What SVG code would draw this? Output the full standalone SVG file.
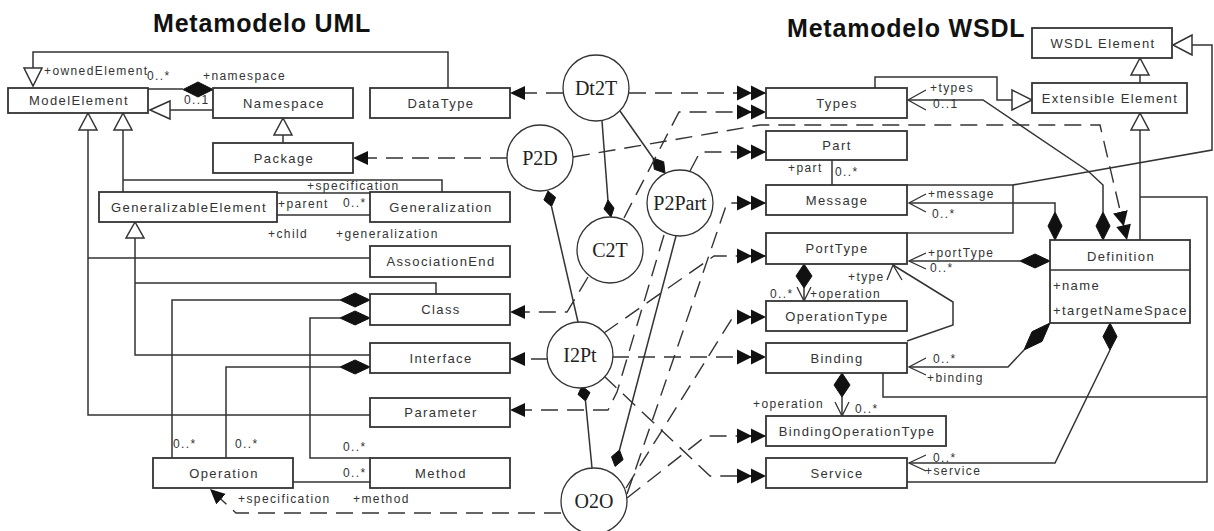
<svg xmlns="http://www.w3.org/2000/svg" width="1214" height="531" viewBox="0 0 1214 531">
<defs>
<style>
.box{fill:#fff;stroke:#333;stroke-width:1.8}
.t{font-family:"Liberation Sans",Arial,sans-serif;font-size:13px;letter-spacing:1.4px;fill:#333;text-anchor:middle}
.ta{font-family:"Liberation Sans",Arial,sans-serif;font-size:13px;letter-spacing:1.4px;fill:#333}
.lbl{font-family:"Liberation Sans",Arial,sans-serif;font-size:12px;letter-spacing:1.4px;fill:#333}
.title{font-family:"Liberation Sans",Arial,sans-serif;font-size:25px;font-weight:bold;letter-spacing:0.8px;fill:#111}
.circ{fill:#fff;stroke:#333;stroke-width:1.3}
.ct{font-family:"Liberation Serif","Times New Roman",serif;font-size:20px;fill:#222;text-anchor:middle}
.ln{fill:none;stroke:#333;stroke-width:1.5}
.dl{fill:none;stroke:#333;stroke-width:1.4;stroke-dasharray:17 9}
.gen{fill:#fff;stroke:#333;stroke-width:1.5}
.dia{fill:#111;stroke:#111;stroke-width:1}
.opn{fill:none;stroke:#333;stroke-width:1.3}
</style>
<marker id="dbl" markerUnits="userSpaceOnUse" markerWidth="30" markerHeight="16" refX="29" refY="8" orient="auto" viewBox="0 0 30 16">
<path d="M0,0.5 L15,8 L0,15.5 Z M14,0.5 L29,8 L14,15.5 Z" fill="#111"/>
</marker>
<marker id="arr" markerUnits="userSpaceOnUse" markerWidth="16" markerHeight="15" refX="15" refY="7.5" orient="auto" viewBox="0 0 16 15">
<path d="M0,0.5 L15,7.5 L0,14.5 Z" fill="#111"/>
</marker>
</defs>
<rect width="1214" height="531" fill="#fff"/>

<text class="title" x="153" y="32">Metamodelo UML</text>
<text class="title" x="787" y="37">Metamodelo WSDL</text>

<!-- connectors -->
<g id="connectors">
<!-- UML metamodel associations and generalizations -->
<path class="ln" d="M448,88 V52 H33 V68"/>
<polygon class="gen" points="24,68 42,68 33,86"/>
<path class="ln" d="M148,89 H183"/>
<polygon class="dia" points="183,89.5 198,82 213,89.5 198,97"/>
<path class="ln" d="M170,110 H213"/>
<polygon class="gen" points="150,110 170,101 170,119"/>
<path class="ln" d="M283,135 V143"/>
<polygon class="gen" points="283,118 274,135 292,135"/>
<path class="ln" d="M88,130 V415 H370 M88,258 H370"/>
<path class="ln" d="M123,130 V192 M123,180 H442 V192"/>
<polygon class="gen" points="88,113 79,130 97,130"/>
<polygon class="gen" points="123,113 114,130 132,130"/>
<path class="ln" d="M135,238 V355 H370 M135,283 H436 V294"/>
<polygon class="gen" points="135,222 126,238 144,238"/>
<path class="ln" d="M277,193 H370 M277,215 H370"/>
<path class="ln" d="M340,300 H172 V458"/>
<polygon class="dia" points="340,300 355,293 370,300 355,307"/>
<path class="ln" d="M340,318 H310 V458 H370"/>
<polygon class="dia" points="340,318 355,311 370,318 355,325"/>
<path class="ln" d="M340,367 H226 V458"/>
<polygon class="dia" points="340,367 355,360 370,367 355,374"/>
<path class="ln" d="M293,482 H370"/>

<!-- transformation rules -->
<path class="dl" d="M563,93 H510" marker-end="url(#arr)"/>
<path class="dl" d="M629,93 H766" marker-end="url(#dbl)"/>
<path class="ln" d="M602,121 L608,201"/>
<polygon class="dia" points="608,200 614,208 611,217 604,209"/>
<path class="ln" d="M620,111 L653,158"/>
<polygon class="dia" points="653,158 663.7,161.8 665,173 654.3,169.3"/>
<path class="dl" d="M507,158 H353" marker-end="url(#arr)"/>
<path class="dl" d="M573,157 L760,125 H1100 L1127,240" marker-end="url(#dbl)"/>
<polygon class="dia" points="548,191 555.6,197.4 551.5,206.5 543.9,200"/>
<path class="ln" d="M551.5,206.5 L578,322"/>
<path class="dl" d="M588,277 L567,312 H510" marker-end="url(#arr)"/>
<path class="dl" d="M624,218 L679,112 H766" marker-end="url(#dbl)"/>
<path class="dl" d="M690,171 L700,152 H766" marker-end="url(#dbl)"/>
<path class="dl" d="M664,235 L617,392 L608,410 H510" marker-end="url(#arr)"/>
<path class="ln" d="M676,236 L619.5,450"/>
<polygon class="dia" points="619.5,450 623.1,459.7 615.1,466.4 611.5,456.7"/>
<path class="dl" d="M548,359 H510" marker-end="url(#arr)"/>
<path class="dl" d="M612,357 H766" marker-end="url(#dbl)"/>
<path class="dl" d="M604,333 L714,256 H766" marker-end="url(#dbl)"/>
<path class="dl" d="M604,376 L710,476 H766" marker-end="url(#dbl)"/>
<polygon class="dia" points="582,386 590,392.5 585.5,401 578,394.5"/>
<path class="ln" d="M585.5,401 L592,468"/>
<path class="dl" d="M561,513 H236 L210,489" marker-end="url(#arr)"/>
<path class="dl" d="M627,494 L727,203 H766" marker-end="url(#dbl)"/>
<path class="dl" d="M626,488 L733,317 H766" marker-end="url(#dbl)"/>
<path class="dl" d="M627,498 L706,436 H766" marker-end="url(#dbl)"/>

<!-- WSDL metamodel associations and generalizations -->
<path class="ln" d="M875,88 V77 H997 V100 H1012"/>
<polygon class="gen" points="1012,90 1012,110 1032,100"/>
<path class="ln" d="M1140,75 V83"/>
<polygon class="gen" points="1140,58 1131,75 1149,75"/>
<path class="ln" d="M1192,45 H1212 V150 L1013,185 V233 H907 M1013,185 H907"/>
<polygon class="gen" points="1173,45 1192,35 1192,55"/>
<path class="ln" d="M1140,130 V240 M1140,197 H1207 V482 H907 M883,373 V397 H1207"/>
<polygon class="gen" points="1140,113 1131,130 1149,130"/>
<path class="ln" d="M908,100 H983 L1088,171 L1103,185 V212"/>
<path class="opn" d="M926,90 L908,100 L926,110"/>
<polygon class="dia" points="1103,212 1110,226 1103,240 1096,226"/>
<path class="ln" d="M909,203 H1055 V212"/>
<path class="opn" d="M926,194 L909,203 L926,212"/>
<polygon class="dia" points="1055,212 1062,226 1055,240 1048,226"/>
<path class="ln" d="M909,261 H1020"/>
<path class="opn" d="M926,253 L909,261 L926,269"/>
<polygon class="dia" points="1020,261 1035,254 1050,261 1035,268"/>
<path class="ln" d="M909,367 H1008 L1024,350"/>
<path class="opn" d="M926,358 L909,367 L926,375"/>
<polygon class="dia" points="1024,350 1042,341.4 1050,323 1032,331.7"/>
<path class="ln" d="M909,463 H1055 L1110,350"/>
<path class="opn" d="M926,455 L909,463 L926,471"/>
<polygon class="dia" points="1110,350 1117,336.5 1110,323 1103,336.5"/>
<path class="ln" d="M907,341 L953,325 V302 L893,265"/>
<path class="opn" d="M887,280 L893,265 L902,280"/>
<polygon class="dia" points="804,264 812,276 804,288 796,276"/>
<path class="ln" d="M804,288 V301"/>
<path class="opn" d="M797,287 L804,301 L811,287"/>
<polygon class="dia" points="842,373 850,385 842,397 834,385"/>
<path class="ln" d="M842,397 V416"/>
<path class="opn" d="M835,402 L842,416 L849,402"/>
<path class="ln" d="M832,160 V185"/>
</g>

<!-- association end labels -->
<g id="labels">
<text class="lbl" x="44" y="75" letter-spacing="1">+ownedElement</text>
<text class="lbl" x="147" y="80">0..*</text>
<text class="lbl" x="203" y="80">+namespace</text>
<text class="lbl" x="184" y="104">0..1</text>
<text class="lbl" x="307" y="190">+specification</text>
<text class="lbl" x="278" y="208">+parent</text>
<text class="lbl" x="343" y="207">0..*</text>
<text class="lbl" x="268" y="238">+child</text>
<text class="lbl" x="336" y="238">+generalization</text>
<text class="lbl" x="173" y="448">0..*</text>
<text class="lbl" x="235" y="448">0..*</text>
<text class="lbl" x="343" y="451">0..*</text>
<text class="lbl" x="343" y="477">0..*</text>
<text class="lbl" x="238" y="503">+specification</text>
<text class="lbl" x="353" y="503">+method</text>
<text class="lbl" x="930" y="92">+types</text>
<text class="lbl" x="933" y="108">0..1</text>
<text class="lbl" x="788" y="172">+part</text>
<text class="lbl" x="835" y="176">0..*</text>
<text class="lbl" x="928" y="198">+message</text>
<text class="lbl" x="932" y="218">0..*</text>
<text class="lbl" x="928" y="257">+portType</text>
<text class="lbl" x="930" y="272">0..*</text>
<text class="lbl" x="848" y="281">+type</text>
<text class="lbl" x="770" y="298">0..*</text>
<text class="lbl" x="810" y="298">+operation</text>
<text class="lbl" x="753" y="408">+operation</text>
<text class="lbl" x="855" y="413">0..*</text>
<text class="lbl" x="933" y="363">0..*</text>
<text class="lbl" x="927" y="382">+binding</text>
<text class="lbl" x="933" y="462">0..*</text>
<text class="lbl" x="925" y="475">+service</text>
</g>

<!-- UML metaclasses -->
<g id="ModelElement"><rect class="box" x="8" y="88" width="140" height="25"/><text class="t" x="79" y="105">ModelElement</text></g>
<g id="Namespace"><rect class="box" x="213" y="88" width="140" height="30"/><text class="t" x="284" y="108">Namespace</text></g>
<g id="DataType"><rect class="box" x="370" y="88" width="140" height="30"/><text class="t" x="441" y="108">DataType</text></g>
<g id="Package"><rect class="box" x="213" y="143" width="140" height="30"/><text class="t" x="284" y="163">Package</text></g>
<g id="GeneralizableElement"><rect class="box" x="99" y="192" width="178" height="30"/><text class="t" x="189" y="212">GeneralizableElement</text></g>
<g id="Generalization"><rect class="box" x="370" y="192" width="140" height="30"/><text class="t" x="441" y="212">Generalization</text></g>
<g id="AssociationEnd"><rect class="box" x="370" y="246" width="140" height="31"/><text class="t" x="441" y="266">AssociationEnd</text></g>
<g id="Class"><rect class="box" x="370" y="294" width="140" height="31"/><text class="t" x="441" y="314">Class</text></g>
<g id="Interface"><rect class="box" x="370" y="343" width="140" height="30"/><text class="t" x="441" y="363">Interface</text></g>
<g id="Parameter"><rect class="box" x="370" y="398" width="140" height="29"/><text class="t" x="441" y="417">Parameter</text></g>
<g id="Method"><rect class="box" x="370" y="458" width="140" height="30"/><text class="t" x="441" y="478">Method</text></g>
<g id="Operation"><rect class="box" x="153" y="458" width="140" height="30"/><text class="t" x="224" y="478">Operation</text></g>

<!-- WSDL metaclasses -->
<g id="Types"><rect class="box" x="766" y="88" width="141" height="30"/><text class="t" x="837" y="108">Types</text></g>
<g id="Part"><rect class="box" x="766" y="131" width="141" height="29"/><text class="t" x="837" y="150">Part</text></g>
<g id="Message"><rect class="box" x="766" y="185" width="141" height="30"/><text class="t" x="837" y="205">Message</text></g>
<g id="PortType"><rect class="box" x="766" y="233" width="141" height="31"/><text class="t" x="837" y="253">PortType</text></g>
<g id="OperationType"><rect class="box" x="766" y="301" width="141" height="30"/><text class="t" x="837" y="321">OperationType</text></g>
<g id="Binding"><rect class="box" x="766" y="343" width="141" height="30"/><text class="t" x="837" y="363">Binding</text></g>
<g id="BindingOperationType"><rect class="box" x="766" y="416" width="180" height="30"/><text class="t" x="857" y="436">BindingOperationType</text></g>
<g id="Service"><rect class="box" x="766" y="458" width="141" height="30"/><text class="t" x="837" y="478">Service</text></g>
<g id="WSDLElement"><rect class="box" x="1032" y="28" width="140" height="30"/><text class="t" x="1103" y="48">WSDL Element</text></g>
<g id="ExtensibleElement"><rect class="box" x="1032" y="83" width="155" height="30"/><text class="t" x="1110" y="103">Extensible Element</text></g>
<g id="Definition"><rect class="box" x="1050" y="240" width="140" height="83"/><line class="ln" x1="1050" y1="270" x2="1190" y2="270"/><text class="t" x="1121" y="261">Definition</text><text class="ta" x="1053" y="290">+name</text><text class="ta" x="1053" y="315">+targetNameSpace</text></g>

<!-- mapping rules -->
<g id="Dt2T"><circle class="circ" cx="596" cy="88" r="33"/><text class="ct" x="596" y="95">Dt2T</text></g>
<g id="P2D"><circle class="circ" cx="540" cy="158" r="33"/><text class="ct" x="540" y="165">P2D</text></g>
<g id="C2T"><circle class="circ" cx="610" cy="250" r="33"/><text class="ct" x="610" y="257">C2T</text></g>
<g id="P2Part"><circle class="circ" cx="680" cy="203" r="33"/><text class="ct" x="680" y="210">P2Part</text></g>
<g id="I2Pt"><circle class="circ" cx="580" cy="355" r="33"/><text class="ct" x="580" y="362">I2Pt</text></g>
<g id="O2O"><circle class="circ" cx="594" cy="501" r="33"/><text class="ct" x="594" y="508">O2O</text></g>
</svg>
